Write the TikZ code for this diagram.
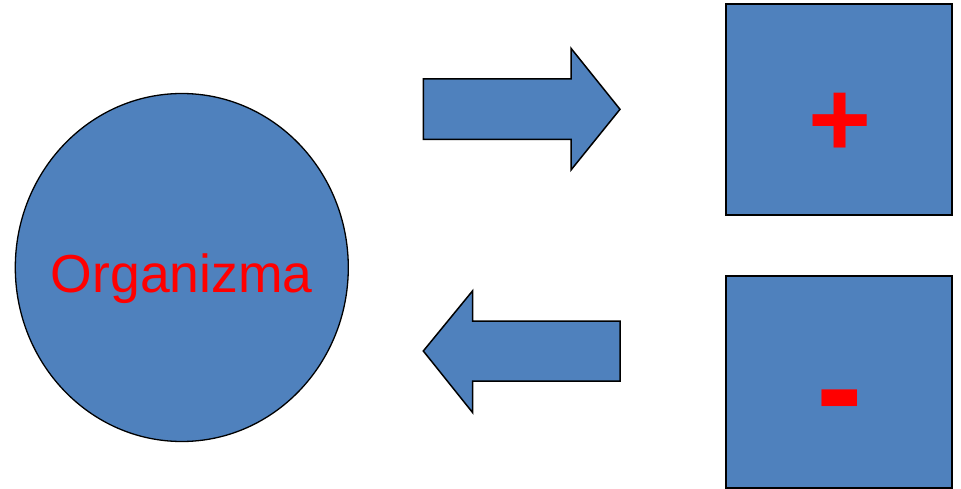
\documentclass[tikz,border=0pt]{standalone}
\usepackage{fontspec}
\setmainfont{Liberation Sans}
\usetikzlibrary{shapes.geometric}
\definecolor{shapeblue}{HTML}{4F81BD}
\definecolor{txtred}{HTML}{FF0000}
\begin{document}
\begin{tikzpicture}[x=1pt,y=-1pt,
  bluefill/.style={fill=shapeblue,draw=black,line join=miter},
  redtxt/.style={text=txtred,inner sep=0pt,outer sep=0pt}]
\useasboundingbox (0,0) rectangle (961,489);
% organism ellipse
\node[bluefill,ellipse,line width=1.3pt,minimum width=333pt,minimum height=348pt,inner sep=0pt] (org) at (181.8,267.5) {};
\node[redtxt,anchor=base] (orgtxt) at (181.8,292.3) {\fontsize{53.5}{60}\selectfont Organizma};
% squares
\node[bluefill,rectangle,line width=2pt,minimum width=226pt,minimum height=211pt,inner sep=0pt] (plusbox) at (839.2,109.2) {};
\node[bluefill,rectangle,line width=2pt,minimum width=226pt,minimum height=212pt,inner sep=0pt] (minusbox) at (839.2,381.5) {};
\node[redtxt] (plus) at (840,124.5) {\fontsize{108}{120}\selectfont\bfseries +};
\node[redtxt] (minus) at (840,412) {\fontsize{140}{150}\selectfont\bfseries -};
% arrows
\draw[bluefill,line width=1.5pt] (423.3,79) -- (571,79) -- (571,48.3) -- (620,109.3) -- (571,170) -- (571,139.3) -- (423.3,139.3) -- cycle;
\draw[bluefill,line width=1.5pt] (620,321) -- (472.7,321) -- (472.7,290.7) -- (423.3,351) -- (472.7,412.7) -- (472.7,381) -- (620,381) -- cycle;
\end{tikzpicture}
\end{document}
